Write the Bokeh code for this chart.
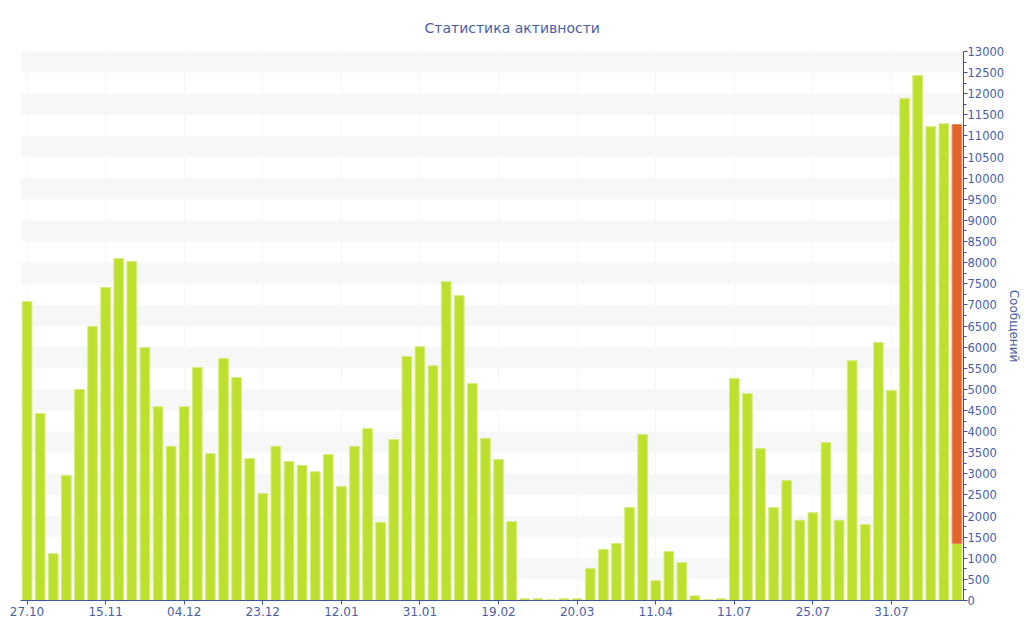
from bokeh.plotting import figure
from bokeh.models import LinearAxis, Range1d, FixedTicker, SingleIntervalTicker, ColumnDataSource
from bokeh.embed import file_html
from bokeh.resources import INLINE

title_text = "Статистика активности"
y_axis_title = "Сообщений"

tick_labels = ["27.10", "15.11", "04.12", "23.12", "12.01", "31.01", "19.02",
               "20.03", "11.04", "11.07", "25.07", "31.07"]

messages = [7080, 4430, 1110, 2960, 5000, 6490, 7410, 8100, 8030, 5990,
            4590, 3650, 4590, 5520, 3480, 5730, 5280, 3360, 2530, 3650,
            3290, 3200, 3050, 3460, 2700, 3650, 4070, 1850, 3810, 5780,
            6010, 5560, 7550, 7220, 5140, 3840, 3340, 1870, 40, 40,
            20, 40, 40, 760, 1210, 1350, 2200, 3930, 470, 1160,
            900, 110, 20, 40, 5260, 4900, 3600, 2200, 2840, 1900,
            2080, 3740, 1900, 5680, 1800, 6110, 4970, 11890, 12430, 11220,
            11290, 1350]

forecast = [0] * 71 + [9920]

GREEN = "#bde02f"
GREEN_EDGE = "#d6ee80"
ORANGE = "#e0642c"
BLUE = "#3e539e"
LABEL = "#4a5ea8"

n = len(messages)
xs = list(range(n))
tick_pos = list(range(0, n, 6))[:len(tick_labels)]

p = figure(width=1024, height=640, output_backend="svg", toolbar_location=None,
           x_range=Range1d(-0.5, n - 0.5), y_range=Range1d(0, 13000),
           min_border_left=20, min_border_top=51, min_border_bottom=40, min_border_right=0,
           y_axis_location=None)
p.outline_line_color = None
p.background_fill_color = "white"

p.title.text = title_text
p.title.align = "left"
p.title.offset = 404
p.title.text_font = "DejaVu Sans"
p.title.text_font_size = "14px"
p.title.text_font_style = "normal"
p.title.text_color = LABEL
p.title.standoff = 32

src = ColumnDataSource(dict(x=xs, top=messages))
p.vbar(x="x", top="top", width=0.74, bottom=0, source=src,
       fill_color=GREEN, line_color=GREEN_EDGE, line_width=1)

fx = [i for i in xs if forecast[i] > 0]
fsrc = ColumnDataSource(dict(x=fx, bottom=[messages[i] for i in fx],
                             top=[messages[i] + forecast[i] for i in fx]))
p.vbar(x="x", top="top", bottom="bottom", width=0.74, source=fsrc,
       fill_color=ORANGE, line_color="#e98a5e", line_width=1)

# x axis
xa = p.xaxis[0]
xa.ticker = FixedTicker(ticks=tick_pos)
xa.major_label_overrides = {t: lab for t, lab in zip(tick_pos, tick_labels)}
xa.axis_line_color = BLUE
xa.major_tick_line_color = BLUE
xa.major_tick_out = 4
xa.major_tick_in = 0
xa.minor_tick_line_color = None
xa.major_label_text_color = LABEL
xa.major_label_text_font = "DejaVu Sans"
xa.major_label_text_font_size = "12px"
xa.major_label_standoff = 2

# right y axis
ya = LinearAxis(ticker=SingleIntervalTicker(interval=500, num_minor_ticks=2))
ya.axis_line_color = BLUE
ya.major_tick_line_color = BLUE
ya.minor_tick_line_color = BLUE
ya.major_tick_out = 4
ya.major_tick_in = 0
ya.minor_tick_out = 3
ya.minor_tick_in = 0
ya.major_label_text_color = LABEL
ya.major_label_text_font = "DejaVu Sans"
ya.major_label_text_font_size = "11.5px"
ya.major_label_standoff = 0
ya.axis_label = y_axis_title
ya.axis_label_text_color = LABEL
ya.axis_label_text_font = "DejaVu Sans"
ya.axis_label_text_font_size = "12px"
ya.axis_label_text_font_style = "normal"
ya.axis_label_standoff = 0
p.add_layout(ya, "right")

p.xgrid.grid_line_color = "#f5f5f5"
p.xgrid.ticker = FixedTicker(ticks=tick_pos)
p.ygrid.grid_line_color = None
p.ygrid.ticker = SingleIntervalTicker(interval=500)
p.ygrid.band_fill_color = "#f7f7f7"
p.ygrid.band_fill_alpha = 1.0
p.ygrid.level = "underlay"
p.xgrid.level = "underlay"

open("out.html", "w").write(file_html(p, INLINE))
